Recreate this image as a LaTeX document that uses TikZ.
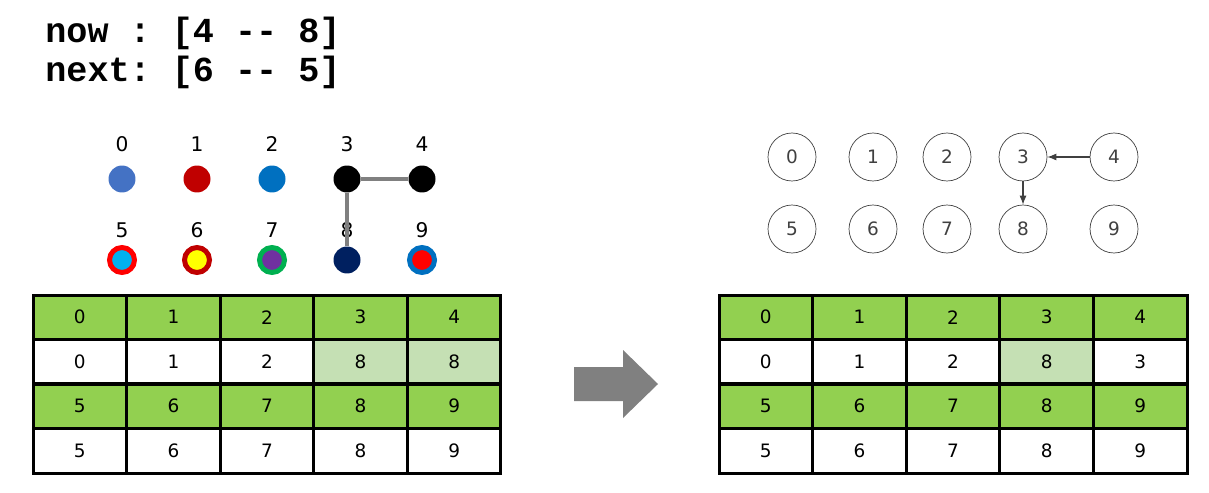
\documentclass[tikz,border=0pt]{standalone}
\usepackage{fontspec}
\setmainfont{DejaVu Sans}
\newfontfamily\codefont{Liberation Mono}
\usetikzlibrary{positioning, arrows.meta}

\definecolor{hdr}{HTML}{92D050}
\definecolor{pale}{HTML}{C5E0B4}
\definecolor{cA}{HTML}{4472C4}
\definecolor{cB}{HTML}{C00000}
\definecolor{cC}{HTML}{0070C0}
\definecolor{cD}{HTML}{00B0F0}
\definecolor{cE}{HTML}{FFFF00}
\definecolor{cF}{HTML}{7030A0}
\definecolor{cG}{HTML}{00B050}
\definecolor{cH}{HTML}{002060}
\definecolor{cI}{HTML}{FF0000}
\definecolor{edgegray}{HTML}{808080}
\definecolor{ink}{HTML}{404040}

\begin{document}
\begin{tikzpicture}[x=0.02cm, y=-0.02cm,
    code/.style={anchor=base west, inner sep=0pt,
      font=\codefont\bfseries\fontsize{20}{24}\selectfont\frenchspacing},
    cell/.style={draw, line width=0.06cm, outer sep=0pt, inner sep=0pt,
      minimum width=1.872cm, minimum height=0.89cm, font=\fontsize{10.5}{12}\selectfont},
    dot/.style={circle, fill=#1, minimum size=0.54cm, inner sep=0pt},
    ring/.style={circle, draw=#1, line width=0.1cm, minimum size=0.5cm, inner sep=0pt},
    toplbl/.style={inner sep=0pt, label distance=0.27cm, font=\fontsize{11.5}{13}\selectfont},
    lowlbl/.style={inner sep=0pt, label distance=0.14cm, font=\fontsize{11.5}{13}\selectfont},
    link/.style={edgegray, line width=0.08cm},
    vert/.style={circle, draw=ink, text=ink, minimum size=0.96cm, inner sep=0pt,
      font=\fontsize{10.5}{12}\selectfont},
    flow/.style={-{Latex[length=0.18cm, width=0.14cm]}, ink, line width=0.6pt}]
    \useasboundingbox (0,0) rectangle (1209,493);

    % pairs being processed
    \node[code] (now)  at (45,43) {now : [4 -{}- 8]};
    \node[code] (next) at (45,82) {next: [6 -{}- 5]};

    % left: coloured points
    \node[dot=cA, label={[toplbl]above:0}] (d0) at (122,179) {};
    \node[dot=cB, label={[toplbl]above:1}] (d1) at (197,179) {};
    \node[dot=cC, label={[toplbl]above:2}] (d2) at (272,179) {};
    \node[dot=black, label={[toplbl]above:3}] (d3) at (347,179) {};
    \node[dot=black, label={[toplbl]above:4}] (d4) at (422,179) {};
    \node[ring=cI, fill=cD, label={[lowlbl]above:5}] (d5) at (122,260) {};
    \node[ring=cB, fill=cE, label={[lowlbl]above:6}] (d6) at (197,260) {};
    \node[ring=cG, fill=cF, label={[lowlbl]above:7}] (d7) at (272,260) {};
    \node[dot=cH, label={[lowlbl, label distance=0.17cm]above:8}] (d8) at (347,260) {};
    \node[ring=cC, fill=cI, label={[lowlbl]above:9}] (d9) at (422,260) {};
    \draw[link] (d3) -- (d4);
    \draw[link] (d3) -- (d8);

    % right: parent links
    \node[vert] (v0) at (792,157) {0};
    \node[vert] (v1) at (873,157) {1};
    \node[vert] (v2) at (947,157) {2};
    \node[vert] (v3) at (1023,157) {3};
    \node[vert] (v4) at (1114,157) {4};
    \node[vert] (v5) at (792,229) {5};
    \node[vert] (v6) at (873,229) {6};
    \node[vert] (v7) at (947,229) {7};
    \node[vert] (v8) at (1023,229) {8};
    \node[vert] (v9) at (1114,229) {9};
    \draw[flow] (v4) -- (v3);
    \draw[flow] (v3) -- (v8);

    % arrays
    \foreach \tb/\xo in {l/33, r/719} {
      \foreach \v [count=\c] in {0,...,4}
        \node[cell, fill=hdr] (\tb-1-\c) at ({\xo+93.6*(\c-0.5)}, 317.25) {\v};
      \foreach \v [count=\c] in {5,...,9} {
        \node[cell, fill=hdr] (\tb-3-\c) at ({\xo+93.6*(\c-0.5)}, 406.25) {\v};
        \node[cell, fill=white] (\tb-4-\c) at ({\xo+93.6*(\c-0.5)}, 450.75) {\v};
      }
    }
    \foreach \v/\f [count=\c] in {0/white, 1/white, 2/white, 8/pale, 8/pale}
      \node[cell, fill=\f] (l-2-\c) at ({33+93.6*(\c-0.5)}, 361.75) {\v};
    \foreach \v/\f [count=\c] in {0/white, 1/white, 2/white, 8/pale, 3/white}
      \node[cell, fill=\f] (r-2-\c) at ({719+93.6*(\c-0.5)}, 361.75) {\v};

    % step arrow
    \fill[edgegray] (574,367) -- (623,367) -- (623,350) -- (658,384)
      -- (623,418) -- (623,401) -- (574,401) -- cycle;
  \end{tikzpicture}
\end{document}
